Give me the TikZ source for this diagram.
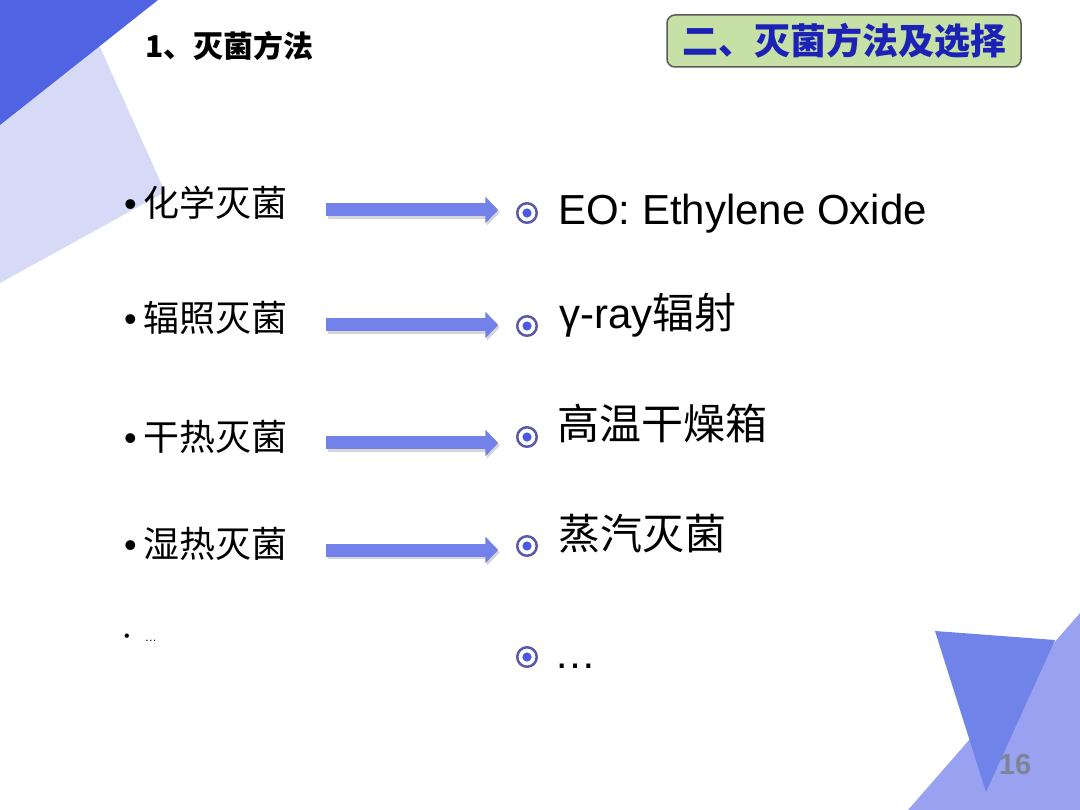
\documentclass[tikz,border=0pt]{standalone}
\usepackage{fontspec}
\setmainfont{Liberation Sans}
\newfontfamily\cjk{Noto Sans CJK SC}
\usepackage{xcolor}
\usepackage{tikz}
\usetikzlibrary{arrows.meta}

\definecolor{deepblue}{HTML}{4F63E3}
\definecolor{paleblue}{HTML}{D6DAF7}
\definecolor{midblue}{HTML}{98A2F0}
\definecolor{tripblue}{HTML}{7083E9}
\definecolor{arrowblue}{HTML}{7382EA}
\definecolor{ringblue}{HTML}{5A5AA8}
\definecolor{dotblue}{HTML}{4A5AE0}
\definecolor{boxgreen}{HTML}{C6E0A5}
\definecolor{titleblue}{HTML}{1C22B6}
\definecolor{pagegray}{HTML}{7E8497}

\begin{document}
\begin{tikzpicture}[
    x=1pt, y=-1pt,
    item/.style={anchor=base west, inner sep=0pt, text height=30pt, text depth=16pt, font=\fontsize{36}{40}\selectfont},
    target/.style={anchor=base west, inner sep=0pt, font=\fontsize{42}{48}\selectfont},
    ring/.style={circle, draw=ringblue, line width=2.5pt, minimum size=19.5pt, inner sep=0pt, outer sep=0pt,
        path picture={\fill[dotblue] (path picture bounding box.center) circle (4.6pt);}},
    fatarrow/.style={line width=13pt, arrowblue, -{Triangle[length=13pt, width=26pt]}, shorten <=38pt, shorten >=19pt},
    arrowshadow/.style={fatarrow, black!16, transform canvas={shift={(1.5pt,-2.5pt)}}},
    titlebox/.style={rectangle, rounded corners=8pt, draw=black!65, line width=1.5pt, fill=boxgreen, minimum width=354pt, minimum height=52pt, text=titleblue, font=\cjk\bfseries\fontsize{36}{40}\selectfont}
]
    \fill[white] (0,0) rectangle (1080,810);
    \fill[paleblue] (0,0) -- (100,47) -- (165,192) -- (0,283) -- cycle;
    \fill[deepblue] (0,0) -- (158,0) -- (0,125) -- cycle;
    \fill[midblue] (908,810) -- (1080,613) -- (1080,810) -- cycle;
    \fill[tripblue] (935,631) -- (1055,640) -- (986,792) -- cycle;
    \useasboundingbox (0,0) rectangle (1080,810);

    \node (head) [anchor=base west, inner sep=0pt, font=\cjk\bfseries\fontsize{30}{34}\selectfont] at (145,58) {1、灭菌方法};
    \node (title) [titlebox] at (844,41) {二、灭菌方法及选择};
    \node (page) [font=\bfseries\fontsize{29}{32}\selectfont, text=pagegray] at (1015,765) {16};

    \node (l1) [item] at (124,217) {\textbullet\hspace{7pt}{\cjk 化学灭菌}};
    \node (l2) [item] at (124,332) {\textbullet\hspace{7pt}{\cjk 辐照灭菌}};
    \node (l3) [item] at (124,450) {\textbullet\hspace{7pt}{\cjk 干热灭菌}};
    \node (l4) [item] at (124,557) {\textbullet\hspace{7pt}{\cjk 湿热灭菌}};
    \node (l5) [item, font=\fontsize{16}{18}\selectfont] at (124,641) {\textbullet\hspace{15pt}{\fontsize{12}{14}\selectfont …}};

    \node (c1) [ring] at (527,213) {};
    \node (r1) [target] at (558,225) {EO: Ethylene Oxide};
    \node (c2) [ring] at (527,326) {};
    \node (r2) [target] at (559,329) {γ-ray{\cjk 辐射}};
    \node (c3) [ring] at (527,437) {};
    \node (r3) [target] at (557,440) {\cjk 高温干燥箱};
    \node (c4) [ring] at (527,546) {};
    \node (r4) [target] at (558,549) {\cjk 蒸汽灭菌};
    \node (c5) [ring] at (527,657) {};
    \node (r5) [target] at (554,668) {…};

    \draw [arrowshadow] (l1.east) -- (l1.east -| c1.west);
    \draw [fatarrow] (l1.east) -- (l1.east -| c1.west);
    \draw [arrowshadow] (l2.east) -- (l2.east -| c2.west);
    \draw [fatarrow] (l2.east) -- (l2.east -| c2.west);
    \draw [arrowshadow] (l3.east) -- (l3.east -| c3.west);
    \draw [fatarrow] (l3.east) -- (l3.east -| c3.west);
    \draw [arrowshadow] (l4.east) -- (l4.east -| c4.west);
    \draw [fatarrow] (l4.east) -- (l4.east -| c4.west);
\end{tikzpicture}
\end{document}
